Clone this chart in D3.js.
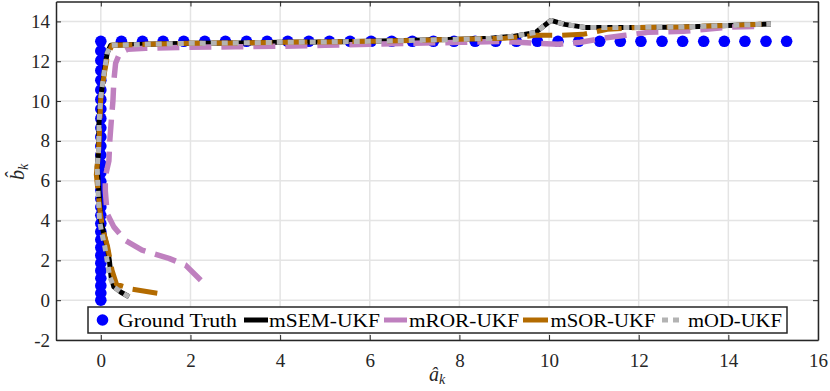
<!DOCTYPE html>
<html><head><meta charset="utf-8">
<script src="https://cdn.jsdelivr.net/npm/d3@7"></script>
<style>body{margin:0;background:#fff}svg{display:block}</style>
</head><body>
<svg id="c" width="830" height="391"></svg>
<script>
// ---- data ----
const xTicks = [0, 2, 4, 6, 8, 10, 12, 14, 16];
const yTicks = [-2, 0, 2, 4, 6, 8, 10, 12, 14];
const seriesNames = ["Ground Truth", "mSEM-UKF", "mROR-UKF", "mSOR-UKF", "mOD-UKF"];

// Ground truth: vertical leg (x = 0) then horizontal leg (y = 13)
const gtVertY = [0, 0.36, 0.73, 1.10, 1.48, 1.86, 2.25, 2.64, 3.04, 3.44, 3.85, 4.26, 4.68, 5.10, 5.53, 5.96, 6.40, 6.84, 7.29, 7.74, 8.20, 8.66, 9.13, 9.60, 10.08, 10.56, 11.05, 11.54, 12.04, 12.52, 13.0];
const gtHorzX = [0.46, 0.93, 1.39, 1.85, 2.32, 2.78, 3.25, 3.71, 4.17, 4.64, 5.10, 5.56, 6.03, 6.49, 6.95, 7.42, 7.88, 8.35, 8.81, 9.27, 9.74, 10.20, 10.66, 11.13, 11.59, 12.05, 12.52, 12.98, 13.45, 13.91, 14.37, 14.84, 15.30];

const semX = [0.63, 0.45, 0.29, 0.23, 0.19, 0.14, 0.06, 0.0, -0.04, -0.06, -0.08, -0.05, -0.04, -0.02, 0.0, 0.07, 0.14, 0.22, 1, 2, 3, 4, 5, 6, 7, 8, 8.7, 9.2, 9.7, 10.04, 10.35, 10.8, 12, 13, 14, 14.95];
const semY = [0.17, 0.4, 0.67, 1.17, 2.0, 2.68, 3.4, 4.0, 5.36, 6.0, 6.7, 7.5, 8.9, 9.6, 10.2, 11.4, 12.4, 12.8, 12.85, 12.9, 12.92, 12.95, 12.97, 13.0, 13.05, 13.1, 13.15, 13.25, 13.45, 14.05, 13.85, 13.7, 13.7, 13.72, 13.8, 13.87];

const rorX = [2.23, 1.89, 1.52, 0.92, 0.55, 0.29, 0.14, 0.1, 0.1, 0.18, 0.2, 0.24, 0.27, 0.29, 0.33, 0.42, 0.6, 1, 2, 3, 4, 5, 6, 7, 8, 9, 9.7, 10.2, 10.7, 11.2, 11.7, 12.2, 13, 13.5, 14, 14.6];
const rorY = [1.0, 1.76, 2.1, 2.51, 3.0, 3.68, 4.36, 5.5, 6.2, 7.0, 8.0, 9.2, 10.0, 11.0, 11.9, 12.4, 12.6, 12.65, 12.7, 12.73, 12.75, 12.8, 12.85, 12.9, 12.95, 13.0, 12.9, 12.85, 12.95, 13.15, 13.3, 13.45, 13.5, 13.6, 13.72, 13.75];

const sorX = [1.26, 0.7, 0.35, 0.25, 0.15, 0.05, -0.02, -0.1, -0.05, -0.02, 0.0, 0.08, 0.15, 0.25, 1, 2, 3, 4, 5, 6, 7, 8, 9.0, 9.7, 10.2, 10.75, 11.3, 12, 13, 14, 14.95];
const sorY = [0.35, 0.55, 0.8, 1.5, 2.7, 3.5, 4.5, 6.3, 7.5, 9.0, 10.2, 11.4, 12.3, 12.8, 12.85, 12.9, 12.92, 12.95, 12.97, 13.0, 13.05, 13.1, 13.15, 13.3, 13.3, 13.35, 13.6, 13.7, 13.72, 13.8, 13.87];

const odX = [0.63, 0.45, 0.29, 0.2, 0.14, 0.09, 0.02, -0.03, -0.06, -0.07, -0.08, -0.05, -0.04, -0.02, 0.0, 0.07, 0.14, 0.22, 1, 2, 3, 4, 5, 6, 7, 8, 8.7, 9.2, 9.7, 10.04, 10.35, 10.8, 12, 13, 14, 14.95];
const odY = [0.17, 0.4, 0.67, 1.17, 2.0, 2.68, 3.4, 4.0, 5.36, 6.0, 6.7, 7.5, 8.9, 9.6, 10.2, 11.4, 12.4, 12.8, 12.85, 12.9, 12.92, 12.95, 12.97, 13.0, 13.05, 13.1, 13.15, 13.25, 13.45, 14.05, 13.85, 13.7, 13.7, 13.72, 13.8, 13.87];

// ---- chart ----
const svg = d3.select("#c");
const L = 56, R = 818, T = 1.5, B = 340;
const x = d3.scaleLinear([-1, 16], [L, R]);
const y = d3.scaleLinear([-2, 15], [B, T]);
const FONT = "'Liberation Serif','Times New Roman',serif";
const fmt = d => String(d); // plain hyphen for negatives, as in the reference

// grid
const grid = svg.append("g").attr("stroke", "#e4e4e4").attr("stroke-width", 1.5);
grid.selectAll(".gx").data(xTicks).join("line")
  .attr("x1", d => x(d)).attr("x2", d => x(d)).attr("y1", T).attr("y2", B);
grid.selectAll(".gy").data(yTicks).join("line")
  .attr("y1", d => y(d)).attr("y2", d => y(d)).attr("x1", L).attr("x2", R);

svg.append("defs").append("clipPath").attr("id", "pc")
  .append("rect").attr("x", L).attr("y", T).attr("width", R - L).attr("height", B - T);
const plot = svg.append("g").attr("clip-path", "url(#pc)");

// ground truth
const gt = gtVertY.map(v => [0, v]).concat(gtHorzX.map(v => [v, 13]));
plot.selectAll(".gt").data(gt).join("circle")
  .attr("cx", d => x(d[0])).attr("cy", d => y(d[1])).attr("r", 5.8).attr("fill", "#0000ff");

const line = d3.line().x(d => x(d[0])).y(d => y(d[1]));
const zip = (a, b) => a.map((v, i) => [v, b[i]]);
const styles = [
  {d: zip(semX, semY), c: "#000000", w: 5, dash: null},
  {d: zip(rorX, rorY), c: "#bf80bf", w: 5.5, dash: "22,10"},
  {d: zip(sorX, sorY), c: "#b36b00", w: 5, dash: "25,10"},
  {d: zip(odX, odY), c: "#b3b3b3", w: 5, dash: "6,5"}
];
styles.forEach(s => {
  plot.append("path").attr("d", line(s.d)).attr("fill", "none")
    .attr("stroke", s.c).attr("stroke-width", s.w)
    .attr("stroke-dasharray", s.dash).attr("stroke-linejoin", "round");
});

// axes (inward ticks)
const axCol = "#262626";
function styleAxis(g) {
  g.select(".domain").attr("stroke", axCol).attr("stroke-width", 1.5);
  g.selectAll(".tick line").attr("stroke", axCol).attr("stroke-width", 1);
  g.selectAll("text").attr("font-family", FONT).attr("font-size", 19).attr("fill", axCol);
}
svg.append("g").attr("transform", `translate(0,${B})`)
  .call(d3.axisBottom(x).tickValues(xTicks).tickFormat(fmt).tickSizeInner(-5).tickSizeOuter(0).tickPadding(14))
  .call(styleAxis);
svg.append("g").attr("transform", `translate(0,${T})`)
  .call(d3.axisTop(x).tickValues(xTicks).tickSizeInner(-5).tickSizeOuter(0).tickFormat(""))
  .call(styleAxis);
svg.append("g").attr("transform", `translate(${L},0)`)
  .call(d3.axisLeft(y).tickValues(yTicks).tickFormat(fmt).tickSizeInner(-5).tickSizeOuter(0).tickPadding(6))
  .call(styleAxis);
svg.append("g").attr("transform", `translate(${R},0)`)
  .call(d3.axisRight(y).tickValues(yTicks).tickSizeInner(-5).tickSizeOuter(0).tickFormat(""))
  .call(styleAxis);

// axis labels
const xl = svg.append("text").attr("x", 437).attr("y", 381).attr("text-anchor", "middle")
  .attr("font-family", FONT).attr("font-size", 20).attr("fill", axCol);
xl.append("tspan").attr("font-style", "italic").text("â");
xl.append("tspan").attr("font-style", "italic").attr("font-size", 14).attr("dy", 3).text("k");

const yl = svg.append("text").attr("transform", "translate(24,172) rotate(-90)").attr("text-anchor", "middle")
  .attr("font-family", FONT).attr("font-size", 20).attr("fill", axCol);
yl.append("tspan").attr("font-style", "italic").text("b\u0302");
yl.append("tspan").attr("font-style", "italic").attr("font-size", 14).attr("dy", 4).text("k");

// legend
const lg = svg.append("g");
lg.append("rect").attr("x", 88).attr("y", 307).attr("width", 699).attr("height", 26)
  .attr("fill", "#fff").attr("stroke", axCol).attr("stroke-width", 1.5);
const ly = 320;
lg.append("circle").attr("cx", 102.5).attr("cy", ly).attr("r", 5.8).attr("fill", "#0000ff");
const legSamples = [
  {x1: 244, x2: 268, c: "#000000", dash: null},
  {x1: 384, x2: 407, c: "#bf80bf", dash: null},
  {x1: 523, x2: 548, c: "#b36b00", dash: null},
  {x1: 662, x2: 681, c: "#b3b3b3", dash: "6,5"}
];
legSamples.forEach(s => lg.append("line").attr("x1", s.x1).attr("x2", s.x2).attr("y1", ly).attr("y2", ly)
  .attr("stroke", s.c).attr("stroke-width", 5).attr("stroke-dasharray", s.dash));
const legText = [
  {x: 118, w: 119}, {x: 269, w: 111}, {x: 409, w: 110}, {x: 550.5, w: 105}, {x: 688, w: 94}
];
legText.forEach((t, i) => lg.append("text").attr("x", t.x).attr("y", ly + 6.5)
  .attr("font-family", FONT).attr("font-size", 19.5).attr("fill", "#000")
  .attr("textLength", t.w).attr("lengthAdjust", "spacingAndGlyphs").text(seriesNames[i]));
</script>
</body></html>
